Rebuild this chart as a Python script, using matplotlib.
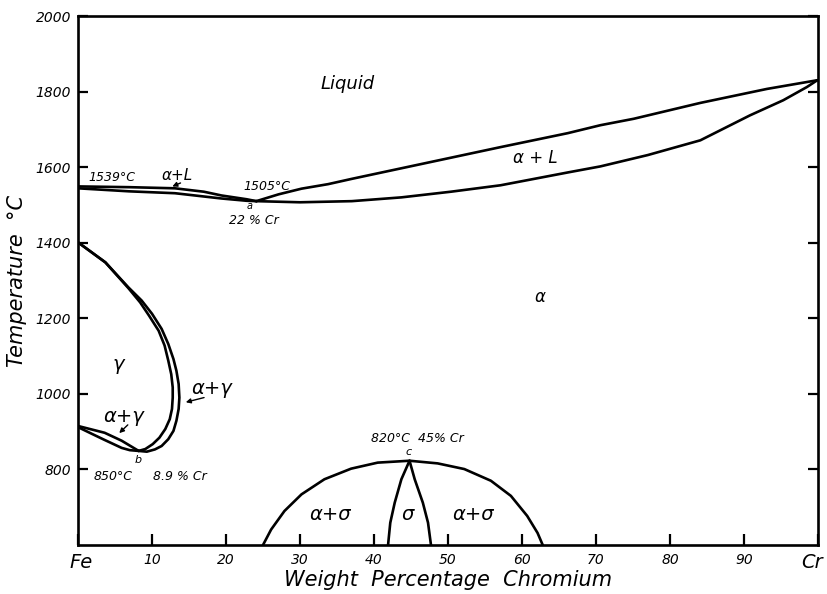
import matplotlib
matplotlib.use("Agg")
import matplotlib.pyplot as plt

# ---- data (wt% Cr, temperature °C) ----
liquidus_left_x = [0, 6.9, 13.1, 17.0, 19.4, 22.8, 24.1]
liquidus_left_t = [1549, 1547, 1544, 1535, 1525, 1515, 1510]
solidus_left_x = [0, 6.9, 13.1, 19.4, 22.8, 24.1]
solidus_left_t = [1544, 1536, 1531, 1517, 1511, 1510]

liquidus_right_x = [24.1, 27.1, 30.2, 33.8, 37.0, 43.7, 50.4, 57.1, 66.2, 70.6, 75.1, 84.1, 93.1, 99.9]
liquidus_right_t = [1510, 1528, 1543, 1555, 1569, 1597, 1625, 1653, 1690, 1711, 1728, 1770, 1807, 1830]
solidus_right_x = [24.1, 30.0, 37.0, 43.7, 50.4, 57.1, 66.2, 70.6, 77.0, 84.1, 90.8, 95.3, 98.5, 99.9]
solidus_right_t = [1510, 1507, 1510, 1520, 1535, 1552, 1586, 1602, 1632, 1671, 1737, 1777, 1812, 1830]

gamma_outer_x = [0, 3.7, 6.8, 8.6, 10.0, 11.3, 12.2, 12.9, 13.3, 13.6, 13.7, 13.6, 13.3,
                 12.9, 12.2, 11.3, 10.4, 9.3, 8.2]
gamma_outer_t = [1401, 1348, 1282, 1247, 1212, 1172, 1132, 1092, 1061, 1026, 990, 960, 929,
                 902, 880, 862, 853, 847, 849]
gamma_inner_x = [0, 3.7, 6.8, 8.4, 9.6, 10.9, 11.7, 12.2, 12.6, 12.8, 12.8, 12.7, 12.4,
                 11.8, 11.0, 10.1, 9.1, 8.2]
gamma_inner_t = [1401, 1348, 1280, 1242, 1207, 1167, 1128, 1088, 1052, 1017, 990, 960, 933,
                 907, 884, 867, 854, 849]
gamma_low_upper_x = [0, 3.6, 5.9, 8.2]
gamma_low_upper_t = [915, 897, 876, 849]
gamma_low_lower_x = [0, 2.0, 3.6, 5.9, 7.0, 8.2]
gamma_low_lower_t = [912, 893, 878, 857, 851, 849]

sigma_dome_x = [25.0, 26.1, 27.9, 30.2, 33.3, 36.9, 40.5, 44.8, 48.6, 52.2, 55.8, 58.5,
                60.7, 62.1, 62.8]
sigma_dome_t = [600, 641, 690, 734, 774, 802, 818, 823, 816, 801, 770, 730, 677, 632, 600]
sigma_left_x = [44.8, 43.7, 42.8, 42.2, 41.9]
sigma_left_t = [823, 774, 712, 659, 600]
sigma_right_x = [44.8, 45.5, 46.6, 47.3, 47.7]
sigma_right_t = [823, 774, 712, 659, 600]

x_ticks = [0, 10, 20, 30, 40, 50, 60, 70, 80, 90, 100]
x_tick_labels = ["", "10", "20", "30", "40", "50", "60", "70", "80", "90", ""]
y_ticks = [800, 1000, 1200, 1400, 1600, 1800, 2000]
y_tick_labels = ["800", "1000", "1200", "1400", "1600", "1800", "2000"]

W, H = 828, 594
fig = plt.figure(figsize=(W / 100, H / 100), dpi=100)
ax = fig.add_axes([78 / W, (H - 545) / H, (818 - 78) / W, (545 - 16) / H])
ax.set_xlim(0, 100)
ax.set_ylim(600, 2000)

FONT = "DejaVu Sans"
lw = 1.9
for xs, ts in [(liquidus_left_x, liquidus_left_t), (solidus_left_x, solidus_left_t),
               (liquidus_right_x, liquidus_right_t), (solidus_right_x, solidus_right_t),
               (gamma_outer_x, gamma_outer_t), (gamma_inner_x, gamma_inner_t),
               (gamma_low_upper_x, gamma_low_upper_t), (gamma_low_lower_x, gamma_low_lower_t),
               (sigma_dome_x, sigma_dome_t), (sigma_left_x, sigma_left_t),
               (sigma_right_x, sigma_right_t)]:
    ax.plot(xs, ts, color="black", lw=lw, solid_capstyle="round", solid_joinstyle="round")

for s in ax.spines.values():
    s.set_linewidth(1.9)

ax.set_xticks(x_ticks)
ax.set_xticklabels(x_tick_labels)
ax.set_yticks(y_ticks)
ax.set_yticklabels(y_tick_labels)
ax.tick_params(axis="x", direction="in", length=8, width=1.6, pad=6, labelsize=10)
ax.tick_params(axis="y", direction="in", length=7, width=1.6, pad=5, labelsize=10,
               right=True)
for lab in ax.get_xticklabels() + ax.get_yticklabels():
    lab.set_fontstyle("italic")
    lab.set_family(FONT)

ax.set_xlabel("Weight  Percentage  Chromium", fontsize=15, style="italic", family=FONT,
              labelpad=2)
ax.set_ylabel("Temperature  °C", fontsize=15, style="italic", family=FONT, labelpad=6)


def t(x, y, s, size=10, **kw):
    ax.text(x, y, s, fontsize=size, style="italic", family=FONT, ha="center",
            va="center", **kw)


t(0.4, 553, "Fe", 14)
t(99.2, 553, "Cr", 14)
t(36.4, 1820, "Liquid", 13)
t(4.6, 1572, "1539°C", 9)
t(13.4, 1578, "α+L", 11)
t(25.5, 1550, "1505°C", 9)
t(23.2, 1497, "a", 7)
t(23.8, 1460, "22 % Cr", 9)
t(61.8, 1624, "α + L", 12)
t(62.4, 1256, "α", 12)
t(5.4, 1079, "γ", 14)
t(18.1, 1013, "α+γ", 14)
t(6.2, 939, "α+γ", 14)
t(8.1, 825, "b", 8)
t(4.7, 780, "850°C", 9)
t(13.8, 780, "8.9 % Cr", 9)
t(45.9, 881, "820°C  45% Cr", 9)
t(44.7, 846, "c", 8)
t(34.1, 680, "α+σ", 14)
t(44.6, 680, "σ", 14)
t(53.4, 680, "α+σ", 14)

arrow = dict(arrowstyle="-|>", color="black", lw=1.0, mutation_scale=7)
ax.annotate("", xy=(12.4, 1546), xytext=(14.2, 1561), arrowprops=arrow)
ax.annotate("", xy=(14.2, 976), xytext=(17.4, 992), arrowprops=arrow)
ax.annotate("", xy=(5.3, 891), xytext=(7.0, 923), arrowprops=arrow)

fig.savefig("out.png", dpi=100)
